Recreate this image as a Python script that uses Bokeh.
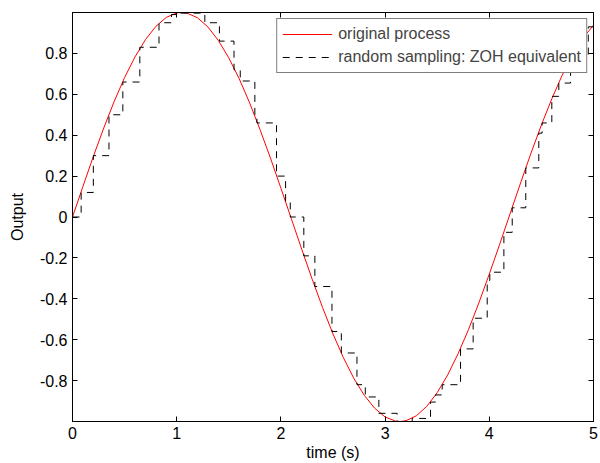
from bokeh.plotting import figure
from bokeh.models import (Range1d, LinearAxis, FixedTicker, CustomJSTickFormatter,
                          Legend, LegendItem)
from bokeh.embed import file_html
from bokeh.resources import INLINE

# original process
t_proc = [0.0, 0.1, 0.2, 0.3, 0.4, 0.5, 0.6, 0.7, 0.8, 0.9, 1.0, 1.05, 1.1, 1.2, 1.3,
          1.4, 1.5, 1.6, 1.7, 1.8, 1.9, 2.0, 2.1, 2.2, 2.3, 2.4, 2.5, 2.6, 2.7, 2.8,
          2.9, 3.0, 3.1, 3.15, 3.2, 3.3, 3.4, 3.5, 3.6, 3.7, 3.8, 3.9, 4.0, 4.1, 4.2,
          4.3, 4.4, 4.5, 4.6, 4.7, 4.8, 4.9, 5.0]
y_proc = [0.0, 0.149, 0.296, 0.435, 0.565, 0.682, 0.783, 0.867, 0.932, 0.976, 0.998, 1.0,
          0.997, 0.974, 0.929, 0.863, 0.778, 0.676, 0.558, 0.427, 0.288, 0.141, -0.008,
          -0.158, -0.304, -0.443, -0.572, -0.688, -0.789, -0.872, -0.935, -0.978, -0.998,
          -1.0, -0.996, -0.972, -0.926, -0.859, -0.773, -0.669, -0.551, -0.420, -0.279,
          -0.133, 0.017, 0.166, 0.312, 0.450, 0.578, 0.694, 0.794, 0.876, 0.938]

# random sampling instants and held values (ZOH)
t_zoh = [0.0, 0.083, 0.2, 0.35, 0.483, 0.646, 0.83, 0.95, 1.0, 1.27, 1.41, 1.55, 1.61,
         1.75, 1.77, 1.958, 2.045, 2.09, 2.22, 2.326, 2.49, 2.58, 2.73, 2.81, 2.94,
         3.116, 3.26, 3.436, 3.484, 3.548, 3.724, 3.845, 3.98, 4.005, 4.14, 4.22, 4.35,
         4.475, 4.507, 4.6, 4.667, 4.78, 4.95, 5.0]
y_zoh = [0.0, 0.12, 0.30, 0.50, 0.66, 0.83, 0.95, 0.99, 0.997, 0.95, 0.86, 0.72, 0.665,
         0.49, 0.46, 0.20, 0.07, 0.0, -0.19, -0.34, -0.56, -0.665, -0.82, -0.88, -0.96,
         -1.0, -0.985, -0.905, -0.87, -0.82, -0.645, -0.495, -0.31, -0.27, -0.075, 0.045,
         0.24, 0.41, 0.46, 0.59, 0.655, 0.78, 0.93, 0.93]

x_ticks = [0, 1, 2, 3, 4, 5]
y_ticks = [-0.8, -0.6, -0.4, -0.2, 0, 0.2, 0.4, 0.6, 0.8]

FONT = "Liberation Sans"
FS = "16px"

p = figure(width=600, height=463, x_range=Range1d(0, 5), y_range=Range1d(-1, 1),
           output_backend="svg", toolbar_location=None,
           min_border_left=72, min_border_right=7, min_border_top=12, min_border_bottom=41)
p.grid.visible = False
p.outline_line_color = "black"
p.background_fill_color = "white"

r_red = p.line(t_proc, y_proc, line_color="#ff0000", line_width=1)
r_zoh = p.step(t_zoh, y_zoh, mode="after", line_color="black", line_width=1,
               line_dash="7 6")

fmt = CustomJSTickFormatter(code="return (Math.round(tick*10)/10).toString();")
blank = CustomJSTickFormatter(code="return '';")

def style(ax, labels=True):
    ax.major_tick_in = 5
    ax.major_tick_out = 0
    ax.minor_tick_line_color = None
    ax.axis_line_color = "black"
    ax.major_tick_line_color = "black"
    ax.major_label_text_font = FONT
    ax.major_label_text_font_size = FS
    ax.major_label_text_color = "black"
    ax.axis_label_text_font = FONT
    ax.axis_label_text_font_size = FS
    ax.axis_label_text_font_style = "normal"
    ax.axis_label_text_color = "black"
    if not labels:
        ax.formatter = blank
        ax.major_label_standoff = 0

xa = p.xaxis[0]
xa.ticker = FixedTicker(ticks=x_ticks)
xa.formatter = fmt
style(xa)
xa.major_label_standoff = 5
xa.axis_label = "time (s)"
xa.axis_label_standoff = 2

ya = p.yaxis[0]
ya.ticker = FixedTicker(ticks=y_ticks)
ya.formatter = fmt
style(ya)
ya.major_label_standoff = 5
ya.axis_label = "Output"
ya.axis_label_standoff = 11

top = LinearAxis(ticker=FixedTicker(ticks=x_ticks))
style(top, labels=False)
p.add_layout(top, "above")
right = LinearAxis(ticker=FixedTicker(ticks=y_ticks))
style(right, labels=False)
p.add_layout(right, "right")

legend = Legend(items=[LegendItem(label="original process", renderers=[r_red]),
                       LegendItem(label="random sampling: ZOH equivalent", renderers=[r_zoh])],
                location="top_right", border_line_color="black", border_line_width=1,
                label_text_font=FONT, label_text_font_size=FS, glyph_width=50,
                glyph_height=20, label_height=20, spacing=3, padding=5, margin=6,
                label_standoff=6, background_fill_color="white", background_fill_alpha=1)
p.add_layout(legend)

open("out.html", "w").write(file_html(p, INLINE))
